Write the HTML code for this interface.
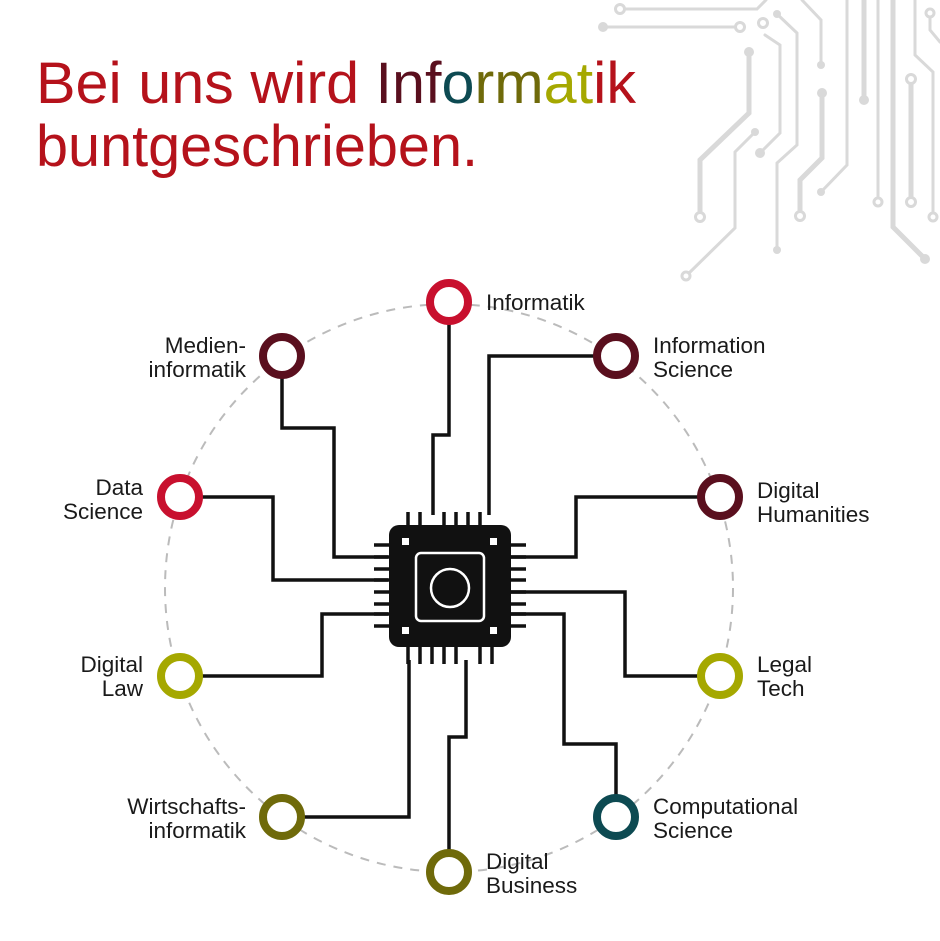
<!DOCTYPE html>
<html><head><meta charset="utf-8"><style>
html,body{margin:0;padding:0;background:#fff;}
svg{display:block;}
text{font-family:"Liberation Sans",sans-serif;}
</style></head><body>
<svg width="940" height="941" viewBox="0 0 940 941" xmlns="http://www.w3.org/2000/svg">
<g stroke="#d9d9d9" fill="none" stroke-linecap="round">
 <g stroke-width="3">
  <path d="M620,9 L757,9 L766,0"/>
  <path d="M603,27 L740,27"/>
  <path d="M765,35 L780,45 L780,133 L760,153"/>
  <path d="M777,14 L797,33 L797,145 L777,163 L777,250"/>
  <path d="M755,132 L735,152 L735,228 L686,276"/>
  <path d="M802,0 L821,20 L821,65"/>
  <path d="M847,0 L847,165 L821,192"/>
  <path d="M878,0 L878,202"/>
  <path d="M915,0 L915,55 L933,72 L933,217"/>
  <path d="M930,13 L930,30 L940,42"/>
 </g>
 <g stroke-width="5">
  <path d="M864,0 L864,100"/>
  <path d="M893,0 L893,227 L925,259"/>
  <path d="M911,79 L911,202"/>
  <path d="M822,93 L822,158 L800,180 L800,216"/>
  <path d="M749,52 L749,113 L700,160 L700,217"/>
 </g>
</g>
<g fill="#d9d9d9">
 <circle cx="603" cy="27" r="5"/><circle cx="760" cy="153" r="5"/><circle cx="777" cy="250" r="4"/>
 <circle cx="749" cy="52" r="5"/><circle cx="755" cy="132" r="4"/><circle cx="821" cy="65" r="4"/>
 <circle cx="822" cy="93" r="5"/><circle cx="821" cy="192" r="4"/><circle cx="864" cy="100" r="5"/>
 <circle cx="925" cy="259" r="5"/><circle cx="777" cy="14" r="4"/>
</g>
<g fill="#fff" stroke="#d9d9d9" stroke-width="3">
 <circle cx="620" cy="9" r="4.5"/><circle cx="740" cy="27" r="4.5"/><circle cx="763" cy="23" r="4.5"/>
 <circle cx="700" cy="217" r="4.5"/><circle cx="686" cy="276" r="4"/><circle cx="800" cy="216" r="4.5"/>
 <circle cx="878" cy="202" r="4"/><circle cx="933" cy="217" r="4"/><circle cx="930" cy="13" r="4"/>
 <circle cx="911" cy="79" r="4.5"/><circle cx="911" cy="202" r="4.5"/>
</g>

<text x="36" y="103" font-size="58" fill="#b5121b" textLength="600" lengthAdjust="spacingAndGlyphs">Bei uns wird <tspan fill="#5a0f1e">Inf</tspan><tspan fill="#0d4a52">o</tspan><tspan fill="#6f6a0a">rm</tspan><tspan fill="#a5a800">at</tspan>ik</text>
<text x="36" y="166" font-size="58" fill="#b5121b" textLength="442" lengthAdjust="spacingAndGlyphs">buntgeschrieben.</text>

<circle cx="449" cy="588" r="284" fill="none" stroke="#bbb" stroke-width="2" stroke-dasharray="9 8"/>

<g stroke="#111" stroke-width="3.5" fill="none">
 <path d="M449,322 L449,435 L433,435 L433,515"/>
 <path d="M596,356 L489,356 L489,515"/>
 <path d="M282,376 L282,428 L334,428 L334,557 L388,557"/>
 <path d="M200,497 L273,497 L273,580 L388,580"/>
 <path d="M700,497 L576,497 L576,557 L510,557"/>
 <path d="M200,676 L322,676 L322,614 L388,614"/>
 <path d="M700,676 L625,676 L625,592 L510,592"/>
 <path d="M616,797 L616,744 L564,744 L564,614 L510,614"/>
 <path d="M302,817 L409,817 L409,660"/>
 <path d="M449,852 L449,737 L466,737 L466,660"/>
</g>

<g stroke="#111" stroke-width="3.5">
 <path d="M408,512V528M420,512V528M444,512V528M456,512V528M468,512V528M480,512V528"/>
 <path d="M408,642V664M420,642V664M432,642V664M444,642V664M456,642V664M480,642V664M492,642V664"/>
 <path d="M374,545H392M374,557H392M374,569H392M374,580H392M374,592H392M374,604H392M374,614H392M374,626H392"/>
 <path d="M508,545H526M508,557H526M508,569H526M508,580H526M508,592H526M508,604H526M508,614H526M508,626H526"/>
</g>
<rect x="389" y="525" width="122" height="122" rx="10" fill="#111"/>
<rect x="416" y="553" width="68" height="68" rx="5" fill="none" stroke="#fff" stroke-width="2.5"/>
<circle cx="450" cy="588" r="19" fill="none" stroke="#fff" stroke-width="2.5"/>
<g fill="#fff">
 <rect x="402" y="538" width="7" height="7"/><rect x="490" y="538" width="7" height="7"/>
 <rect x="402" y="627" width="7" height="7"/><rect x="490" y="627" width="7" height="7"/>
</g>

<g fill="#fff" stroke-width="8">
 <circle cx="449" cy="302" r="19" stroke="#c8102e"/>
 <circle cx="282" cy="356" r="19" stroke="#5a0f1e"/>
 <circle cx="616" cy="356" r="19" stroke="#5a0f1e"/>
 <circle cx="180" cy="497" r="19" stroke="#c8102e"/>
 <circle cx="720" cy="497" r="19" stroke="#5a0f1e"/>
 <circle cx="180" cy="676" r="19" stroke="#a5a800"/>
 <circle cx="720" cy="676" r="19" stroke="#a5a800"/>
 <circle cx="282" cy="817" r="19" stroke="#6f6a0a"/>
 <circle cx="616" cy="817" r="19" stroke="#0d4a52"/>
 <circle cx="449" cy="872" r="19" stroke="#6f6a0a"/>
</g>

<g font-size="22.5" fill="#1a1a1a">
 <text x="486" y="310">Informatik</text>
 <text x="246" y="353" text-anchor="end">Medien-</text>
 <text x="246" y="377" text-anchor="end">informatik</text>
 <text x="653" y="353">Information</text>
 <text x="653" y="377">Science</text>
 <text x="143" y="495" text-anchor="end">Data</text>
 <text x="143" y="519" text-anchor="end">Science</text>
 <text x="757" y="498">Digital</text>
 <text x="757" y="522">Humanities</text>
 <text x="143" y="672" text-anchor="end">Digital</text>
 <text x="143" y="696" text-anchor="end">Law</text>
 <text x="757" y="672">Legal</text>
 <text x="757" y="696">Tech</text>
 <text x="246" y="814" text-anchor="end">Wirtschafts-</text>
 <text x="246" y="838" text-anchor="end">informatik</text>
 <text x="653" y="814">Computational</text>
 <text x="653" y="838">Science</text>
 <text x="486" y="869">Digital</text>
 <text x="486" y="893">Business</text>
</g>
</svg>
</body></html>
